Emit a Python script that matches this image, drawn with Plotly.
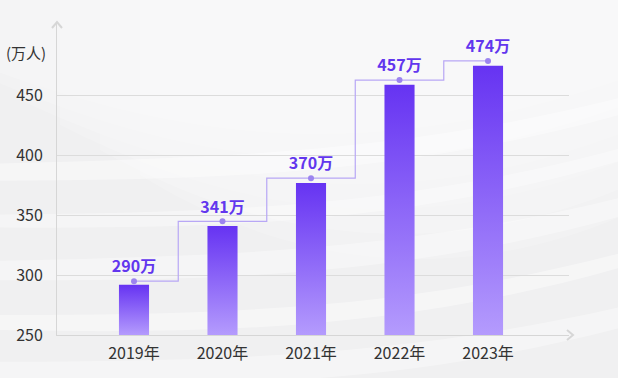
import plotly.graph_objects as go

# ---- data ----
years = ["2019年", "2020年", "2021年", "2022年", "2023年"]
bar_values = [292, 341, 377, 459, 475]          # bar heights
line_values = [295, 345, 381, 463, 479]         # step-line point heights
label_values = [290, 341, 370, 457, 474]        # printed labels (万)
y_ticks = [250, 300, 350, 400, 450]

W, H = 618, 378
ML, MR, MT, MB = 57, 49, 22, 43
Y0, Y1 = 250, 511.5
X0, X1 = -0.87, 4.915

TOP_C = "#6633f2"
BOT_C = "#b49bfd"
LABEL_C = "#6236ee"
LINE_C = "#b8a7f5"
DOT_C = "#9c84ef"
AX_C = "#d6d6d6"
FONT = "Noto Sans CJK SC, Microsoft YaHei, sans-serif"

def px2paper(px, py):
    return (px - ML) / (W - ML - MR), (H - MB - py) / (H - MT - MB)

fig = go.Figure()

half = 0.17
for i, v in enumerate(bar_values):
    fig.add_trace(go.Scatter(
        x=[i - half, i + half, i + half, i - half, i - half],
        y=[Y0, Y0, v, v, Y0],
        mode="none", fill="toself",
        fillgradient=dict(type="vertical", colorscale=[[0, BOT_C], [1, TOP_C]],
                          start=Y0, stop=v),
        hoverinfo="skip", showlegend=False,
    ))

fig.add_trace(go.Scatter(
    x=list(range(len(years))), y=line_values,
    mode="lines+markers+text", line=dict(shape="hvh", color=LINE_C, width=1.2),
    marker=dict(size=6, color=DOT_C),
    text=[f"{v}万" for v in label_values], textposition="top center",
    textfont=dict(family=FONT, size=16, color=LABEL_C, weight="bold"),
    showlegend=False, hoverinfo="skip",
))

# background decoration (soft diagonal streaks)
def band(x0, y0, x1, y1, thick, bend):
    mx, my = (x0 + x1) / 2, (y0 + y1) / 2 + bend
    top = [(x0, y0), (mx - 100, my), (mx + 100, my), (x1, y1)]
    bot = [(x1, y1 + thick), (mx + 100, my + thick * 1.4), (mx - 100, my + thick * 1.4), (x0, y0 + thick)]
    p = [px2paper(*q) for q in top + bot]
    f = lambda q: f"{q[0]:.4f},{q[1]:.4f}"
    return (f"M {f(p[0])} C {f(p[1])} {f(p[2])} {f(p[3])} "
            f"L {f(p[4])} C {f(p[5])} {f(p[6])} {f(p[7])} Z")

shapes = []
# brighter upper area, built from several soft layers
for k in range(6):
    shapes.append(dict(type="path", xref="paper", yref="paper", layer="below",
                       path=band(-60 + 40 * k, -80, 700, -80, 130 + 25 * k, 60 - 10 * k),
                       fillcolor="white", opacity=0.16, line=dict(width=0)))
for (x0, y0, x1, y1, t, b, op) in [
    (-50, 165, 650, 90, 16, 30, 0.4),
    (-50, 215, 650, 140, 12, 35, 0.35),
    (-50, 262, 650, 190, 18, 30, 0.35),
    (-50, 315, 650, 245, 14, 35, 0.4),
    (-50, 362, 650, 300, 20, 30, 0.35),
]:
    shapes.append(dict(type="path", xref="paper", yref="paper", layer="below",
                       path=band(x0, y0, x1, y1, t, b), fillcolor="white",
                       opacity=op, line=dict(width=0)))

# axis arrows
ax, ay = px2paper(57, 22)
bx, by = px2paper(57 - 5, 28)
cx, cy = px2paper(57 + 5, 28)
shapes.append(dict(type="path", xref="paper", yref="paper",
                   path=f"M {bx},{by} L {ax},{ay} L {cx},{cy}",
                   line=dict(color=AX_C, width=2)))
ax, ay = px2paper(573, 335)
bx, by = px2paper(567, 330)
cx, cy = px2paper(567, 340)
shapes.append(dict(type="path", xref="paper", yref="paper",
                   path=f"M {bx},{by} L {ax},{ay} L {cx},{cy}",
                   line=dict(color=AX_C, width=2)))

ux, uy = px2paper(48, 53)
fig.update_layout(
    width=W, height=H,
    margin=dict(l=ML, r=MR, t=MT, b=MB),
    paper_bgcolor="#f0f0f1", plot_bgcolor="rgba(0,0,0,0)",
    font=dict(family=FONT, size=16, color="#333333"),
    shapes=shapes,
    annotations=[dict(text="(万人)", x=ux, y=uy, xref="paper", yref="paper",
                      xanchor="right", yanchor="middle", showarrow=False,
                      font=dict(family=FONT, size=15, color="#333333"))],
    xaxis=dict(range=[X0, X1], tickvals=list(range(len(years))), ticktext=years,
               showgrid=False, zeroline=False, showline=True, linecolor=AX_C,
               linewidth=1, ticks="", ticklabelstandoff=4, fixedrange=True),
    yaxis=dict(range=[Y0, Y1], tickvals=y_ticks, showgrid=True, gridcolor="#dcdcdc",
               gridwidth=1, zeroline=False, showline=True, linecolor=AX_C, linewidth=1,
               ticks="", ticklabelstandoff=10, fixedrange=True),
)

fig.write_html("out.html", config={"displayModeBar": False},
               post_script="document.body.style.margin='0';document.body.style.overflow='hidden';")
